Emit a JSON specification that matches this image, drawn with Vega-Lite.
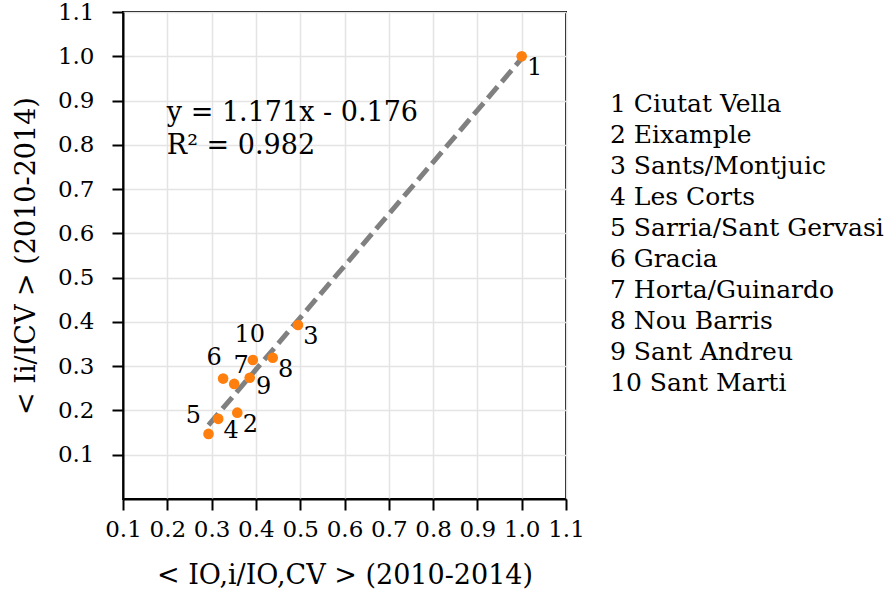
{
  "$schema": "https://vega.github.io/schema/vega-lite/v6.json",
  "width": 443,
  "height": 487,
  "autosize": "none",
  "padding": {"left": 123, "top": 12, "right": 329, "bottom": 101},
  "background": "white",
  "datasets": {
    "pts": [
      {"id": 1, "name": "1 Ciutat Vella", "x": 1.0, "y": 1.0},
      {"id": 2, "name": "2 Eixample", "x": 0.358, "y": 0.195},
      {"id": 3, "name": "3 Sants/Montjuic", "x": 0.495, "y": 0.393},
      {"id": 4, "name": "4 Les Corts", "x": 0.315, "y": 0.181},
      {"id": 5, "name": "5 Sarria/Sant Gervasi", "x": 0.293, "y": 0.147},
      {"id": 6, "name": "6 Gracia", "x": 0.326, "y": 0.272},
      {"id": 7, "name": "7 Horta/Guinardo", "x": 0.351, "y": 0.26},
      {"id": 8, "name": "8 Nou Barris", "x": 0.438, "y": 0.319},
      {"id": 9, "name": "9 Sant Andreu", "x": 0.386, "y": 0.274},
      {"id": 10, "name": "10 Sant Marti", "x": 0.393, "y": 0.314}
    ],
    "fit": [
      {"x": 0.293, "y": 0.167},
      {"x": 1.0, "y": 0.995}
    ],
    "eq": [
      {"text": "y = 1.171x - 0.176"}
    ]
  },
  "config": {
    "font": "DejaVu Serif",
    "view": {"stroke": "black", "strokeWidth": 2},
    "axis": {
      "labelFont": "DejaVu Serif",
      "labelFontSize": 23,
      "labelColor": "black",
      "labelOverlap": false,
      "labelFlush": false,
      "titleFont": "DejaVu Serif",
      "titleFontSize": 27,
      "titleFontWeight": "normal",
      "titleColor": "black",
      "tickColor": "black",
      "tickWidth": 2,
      "tickSize": 11,
      "domainColor": "black",
      "domainWidth": 2,
      "gridColor": "#e4e4e4",
      "gridWidth": 1.5
    },
    "legend": {
      "labelFont": "DejaVu Serif",
      "labelFontSize": 25,
      "labelColor": "black",
      "labelLimit": 0
    }
  },
  "layer": [
    {
      "data": {"name": "fit"},
      "mark": {"type": "line", "color": "#808080", "strokeWidth": 5, "strokeDash": [15, 6.5], "strokeCap": "butt"},
      "encoding": {
        "x": {"field": "x", "type": "quantitative", "scale": {"domain": [0.1, 1.1], "nice": false, "zero": false},
          "axis": {"values": [0.1,0.2,0.3,0.4,0.5,0.6,0.7,0.8,0.9,1.0,1.1], "format": ".1f", "labelFontSize": 23, "labelOverlap": false, "labelFlush": false, "labelPadding": 8, "titlePadding": 21, "title": "< IO,i/IO,CV > (2010-2014)"}},
        "y": {"field": "y", "type": "quantitative", "scale": {"domain": [0, 1.1], "nice": false, "zero": false},
          "axis": {"values": [0.1,0.2,0.3,0.4,0.5,0.6,0.7,0.8,0.9,1.0,1.1], "format": ".1f", "labelFontSize": 23, "labelOverlap": false, "labelFlush": false, "labelPadding": 18, "titlePadding": 17, "title": "< Ii/ICV > (2010-2014)"}}
      }
    },
    {
      "data": {"name": "pts"},
      "mark": {"type": "circle", "size": 113, "opacity": 1},
      "encoding": {
        "x": {"field": "x", "type": "quantitative"},
        "y": {"field": "y", "type": "quantitative"},
        "color": {"field": "name", "type": "nominal",
          "scale": {"domain": ["1 Ciutat Vella","2 Eixample","3 Sants/Montjuic","4 Les Corts","5 Sarria/Sant Gervasi","6 Gracia","7 Horta/Guinardo","8 Nou Barris","9 Sant Andreu","10 Sant Marti"],
            "range": ["#ff7f0e","#ff7f0e","#ff7f0e","#ff7f0e","#ff7f0e","#ff7f0e","#ff7f0e","#ff7f0e","#ff7f0e","#ff7f0e"]},
          "legend": {"title": null, "orient": "none", "legendX": 462, "legendY": 79, "symbolSize": 0, "symbolOpacity": 0, "symbolStrokeWidth": 0, "labelOffset": 0, "rowPadding": 5, "padding": 0}}
      }
    },
    {
      "data": {"name": "pts"},
      "transform": [{"filter": "indexof([1,2,3,4,8], datum.id) >= 0"}],
      "mark": {"type": "text", "fontSize": 24, "align": "center", "baseline": "middle", "dx": 13, "dy": 12, "color": "black"},
      "encoding": {"x": {"field": "x", "type": "quantitative"}, "y": {"field": "y", "type": "quantitative"}, "text": {"field": "id"}}
    },
    {
      "data": {"name": "pts"},
      "transform": [{"filter": "datum.id == 9"}],
      "mark": {"type": "text", "fontSize": 24, "align": "center", "baseline": "middle", "dx": 14, "dy": 9, "color": "black"},
      "encoding": {"x": {"field": "x", "type": "quantitative"}, "y": {"field": "y", "type": "quantitative"}, "text": {"field": "id"}}
    },
    {
      "data": {"name": "pts"},
      "transform": [{"filter": "datum.id == 10"}],
      "mark": {"type": "text", "fontSize": 24, "align": "center", "baseline": "middle", "dx": -3, "dy": -25, "color": "black"},
      "encoding": {"x": {"field": "x", "type": "quantitative"}, "y": {"field": "y", "type": "quantitative"}, "text": {"field": "id"}}
    },
    {
      "data": {"name": "pts"},
      "transform": [{"filter": "datum.id == 6"}],
      "mark": {"type": "text", "fontSize": 24, "align": "center", "baseline": "middle", "dx": -9, "dy": -21, "color": "black"},
      "encoding": {"x": {"field": "x", "type": "quantitative"}, "y": {"field": "y", "type": "quantitative"}, "text": {"field": "id"}}
    },
    {
      "data": {"name": "pts"},
      "transform": [{"filter": "datum.id == 7"}],
      "mark": {"type": "text", "fontSize": 24, "align": "center", "baseline": "middle", "dx": 7, "dy": -18, "color": "black"},
      "encoding": {"x": {"field": "x", "type": "quantitative"}, "y": {"field": "y", "type": "quantitative"}, "text": {"field": "id"}}
    },
    {
      "data": {"name": "pts"},
      "transform": [{"filter": "datum.id == 5"}],
      "mark": {"type": "text", "fontSize": 24, "align": "center", "baseline": "middle", "dx": -15, "dy": -18, "color": "black"},
      "encoding": {"x": {"field": "x", "type": "quantitative"}, "y": {"field": "y", "type": "quantitative"}, "text": {"field": "id"}}
    },
    {
      "data": {"name": "eq"},
      "mark": {"type": "text", "fontSize": 27, "align": "left", "baseline": "alphabetic", "lineHeight": 33, "color": "black"},
      "encoding": {
        "x": {"datum": 0.199, "type": "quantitative"},
        "y": {"datum": 0.854, "type": "quantitative"},
        "text": {"value": ["y = 1.171x - 0.176", "R² = 0.982"]}
      }
    }
  ]
}
